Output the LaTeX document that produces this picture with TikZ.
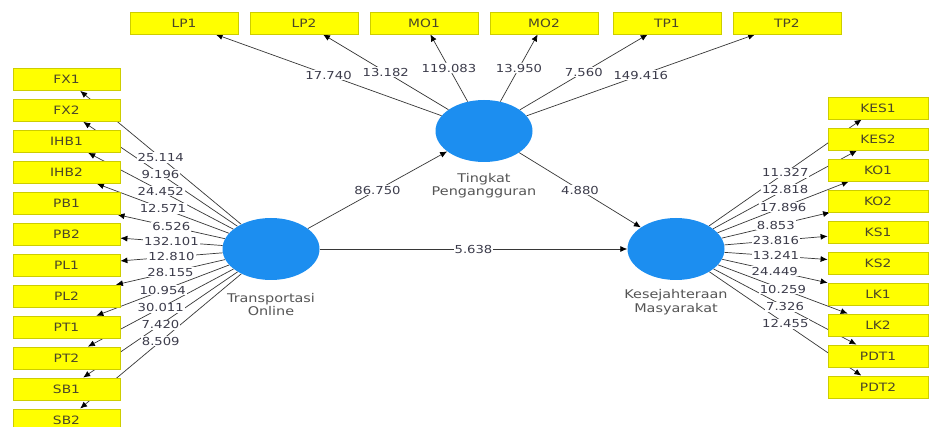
\documentclass[tikz,border=0pt]{standalone}
\usepackage{fontspec}
\newfontfamily\dfont{DejaVu Sans}[FakeStretch=1.2]
\usetikzlibrary{shapes.geometric,arrows.meta}
\pgfdeclarelayer{bg}
\pgfsetlayers{bg,main}
\definecolor{boxfill}{RGB}{255,255,0}
\definecolor{boxline}{RGB}{205,205,0}
\definecolor{boxtext}{RGB}{75,70,40}
\definecolor{lvfill}{RGB}{28,142,240}
\definecolor{edgec}{RGB}{55,55,55}
\definecolor{lbltext}{RGB}{60,60,75}
\definecolor{lvtext}{RGB}{85,85,85}
\tikzset{
  ind/.style={rectangle, fill=boxfill, draw=boxline, line width=0.8pt,
    minimum width=107pt, minimum height=22pt, inner sep=0pt,
    font=\dfont\fontsize{11.5}{12}\selectfont, text=boxtext},
  indr/.style={ind, minimum width=100pt},
  indt/.style={ind, minimum width=108pt},
  lvnode/.style={ellipse, fill=lvfill, minimum width=97pt, minimum height=62pt, inner sep=0pt},
  lvname/.style={font=\dfont\fontsize{12}{13.5}\selectfont, text=lvtext, align=center, inner sep=0pt},
  conn/.style={draw=edgec, line width=0.7pt, -{Latex[length=7pt,width=6pt,color=black]}},
  lbl/.style={fill=white, inner sep=1pt, font=\dfont\fontsize{11}{12}\selectfont, text=lbltext}
}
\newcommand\plsedge[3]{%
  \begin{pgfonlayer}{bg}\draw[conn] (#1) -- (#2);\end{pgfonlayer}%
  \path (#1) -- node[lbl] (l-#1-#2) {#3} (#2);}
\begin{document}
\begin{tikzpicture}[x=1pt,y=-1pt]
\useasboundingbox (0,0) rectangle (929,427);
\begin{pgfonlayer}{bg}\fill[white] (0,0) rectangle (929,427);\end{pgfonlayer}
% latent variables
\node[lvnode] (TO) at (271,249) {};
\node[lvnode] (TP) at (484,131) {};
\node[lvnode] (KM) at (676,249) {};
\node[lvname, anchor=north] (TOn) at ([yshift=-12.5pt]TO.south) {Transportasi\\Online};
\node[lvname, anchor=north] (TPn) at ([yshift=-10.5pt]TP.south) {Tingkat\\Pengangguran};
\node[lvname, anchor=north] (KMn) at ([yshift=-9pt]KM.south) {Kesejahteraan\\Masyarakat};
% indicators
\foreach \n/\x in {LP1/184, LP2/304, MO1/424, MO2/544, TP1/667, TP2/787}
  \node[indt] (\n) at (\x,23) {\n};
\foreach \n [count=\i from 0] in {FX1,FX2,IHB1,IHB2,PB1,PB2,PL1,PL2,PT1,PT2,SB1,SB2}
  \node[ind] (\n) at (66.5,79.5+30.95*\i) {\n};
\foreach \n [count=\i from 0] in {KES1,KES2,KO1,KO2,KS1,KS2,LK1,LK2,PDT1,PDT2}
  \node[indr] (\n) at (878,108+31*\i) {\n};
% outer loadings
\foreach \n/\v in {LP1/17.740, LP2/13.182, MO1/119.083, MO2/13.950, TP1/7.560, TP2/149.416}
  \plsedge{TP}{\n}{\v};
\foreach \n/\v in {FX1/25.114, FX2/9.196, IHB1/24.452, IHB2/12.571, PB1/6.526, PB2/132.101,
  PL1/12.810, PL2/28.155, PT1/10.954, PT2/30.011, SB1/7.420, SB2/8.509}
  \plsedge{TO}{\n}{\v};
\foreach \n/\v in {KES1/11.327, KES2/12.818, KO1/17.896, KO2/8.853, KS1/23.816,
  KS2/13.241, LK1/24.449, LK2/10.259, PDT1/7.326, PDT2/12.455}
  \plsedge{KM}{\n}{\v};
% inner model
\plsedge{TO}{TP}{86.750}
\plsedge{TP}{KM}{4.880}
\plsedge{TO}{KM}{5.638}
\end{tikzpicture}
\end{document}
